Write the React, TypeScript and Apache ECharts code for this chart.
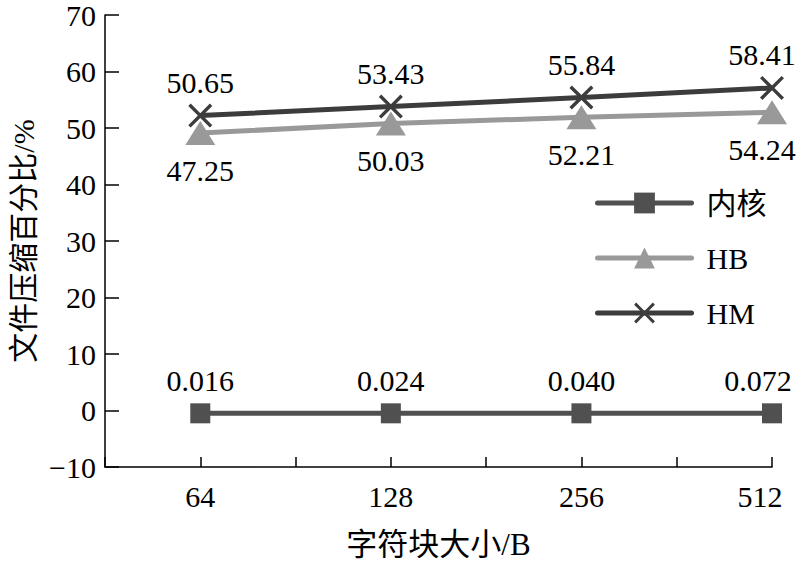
import React, { useEffect, useRef } from "react";
import * as echarts from "echarts";

const categories = ["64", "128", "256", "512"];
const kernelValues = [-0.5, -0.5, -0.5, -0.5];
const kernelLabels = ["0.016", "0.024", "0.040", "0.072"];
const hbValues = [49.1, 50.8, 51.9, 52.8];
const hbLabels = ["47.25", "50.03", "52.21", "54.24"];
const hmValues = [52.2, 53.8, 55.4, 57.1];
const hmLabels = ["50.65", "53.43", "55.84", "58.41"];

const FONT = "'Liberation Serif', 'Noto Sans CJK SC', serif";
const CROSS = "path://M1,0 L5,4 L9,0 L10,1 L6,5 L10,9 L9,10 L5,6 L1,10 L0,9 L4,5 L0,1 Z";

// slots: an empty slot before each category so categories sit on every other tick
const slots: any[] = [];
categories.forEach((c, i) => {
  slots.push("");
  slots.push(
    i === categories.length - 1 ? { value: c, textStyle: { padding: [0, 24, 0, 0] } } : c
  );
});
const pad = (vals: number[], lastShift: number) => {
  const out: any[] = [];
  vals.forEach((v, i) => {
    out.push(null);
    out.push(i === vals.length - 1 ? { value: v, label: { offset: [lastShift, 0] } } : v);
  });
  return out;
};
const labelFmt = (labels: string[]) => (p: any) => labels[(p.dataIndex - 1) / 2];

export default function App() {
  const ref = useRef<HTMLDivElement>(null);
  useEffect(() => {
    if (!ref.current) return;
    const chart = echarts.init(ref.current, undefined, { renderer: "svg" });
    const labelStyle = { fontFamily: FONT, fontSize: 30, color: "#000" };
    chart.setOption({
      animation: false,
      backgroundColor: "#fff",
      grid: { left: 105, right: 28, top: 15, bottom: 103 },
      legend: {
        orient: "vertical",
        left: 590,
        top: 183,
        itemWidth: 94,
        itemHeight: 26,
        itemGap: 25,
        selectedMode: false,
        lineStyle: { width: 5, cap: "round" },
        textStyle: { fontFamily: FONT, fontSize: 30, lineHeight: 30, color: "#000", padding: [0, 0, 0, 10] },
        data: ["内核", "HB", "HM"],
      },
      xAxis: {
        type: "category",
        data: slots,
        boundaryGap: false,
        name: "字符块大小/B",
        nameLocation: "middle",
        nameGap: 62,
        nameTextStyle: { fontFamily: FONT, fontSize: 31, color: "#000" },
        axisLine: { onZero: false, lineStyle: { color: "#000", width: 1.5 } },
        axisTick: { inside: true, length: 10, interval: 0, lineStyle: { color: "#000", width: 1.5 } },
        axisLabel: { interval: 0, margin: 14, fontFamily: FONT, fontSize: 30, color: "#000" },
        splitLine: { show: false },
      },
      yAxis: {
        type: "value",
        min: -10,
        max: 70,
        interval: 10,
        name: "文件压缩百分比/%",
        nameLocation: "middle",
        nameGap: 60,
        nameTextStyle: { fontFamily: FONT, fontSize: 30, color: "#000" },
        axisLine: { show: true, lineStyle: { color: "#000", width: 1.5 } },
        axisTick: { show: true, inside: true, length: 14, lineStyle: { color: "#000", width: 1.5 } },
        axisLabel: {
          margin: 9,
          fontFamily: FONT,
          fontSize: 30,
          color: "#000",
          formatter: (v: number) => String(v).replace("-", "\u2212"),
        },
        splitLine: { show: false },
      },
      series: [
        {
          name: "内核",
          type: "line",
          data: pad(kernelValues, -14),
          connectNulls: true,
          symbol: "rect",
          symbolSize: 20,
          lineStyle: { color: "#505050", width: 5 },
          itemStyle: { color: "#505050" },
          label: { show: true, position: "top", distance: 8, formatter: labelFmt(kernelLabels), ...labelStyle },
        },
        {
          name: "HB",
          type: "line",
          data: pad(hbValues, -10),
          connectNulls: true,
          symbol: "triangle",
          symbolSize: [30, 24],
          lineStyle: { color: "#999999", width: 5 },
          itemStyle: { color: "#999999" },
          label: { show: true, position: "bottom", distance: 10, formatter: labelFmt(hbLabels), ...labelStyle },
        },
        {
          name: "HM",
          type: "line",
          data: pad(hmValues, -10),
          connectNulls: true,
          symbol: CROSS,
          symbolSize: 24,
          lineStyle: { color: "#3c3c3c", width: 5 },
          itemStyle: { color: "#3c3c3c" },
          label: { show: true, position: "top", distance: 6, formatter: labelFmt(hmLabels), ...labelStyle },
        },
      ],
    });
    return () => chart.dispose();
  }, []);
  return (
    <div
      ref={ref}
      style={{ position: "absolute", left: 0, top: 0, width: 800, height: 570 }}
    />
  );
}
